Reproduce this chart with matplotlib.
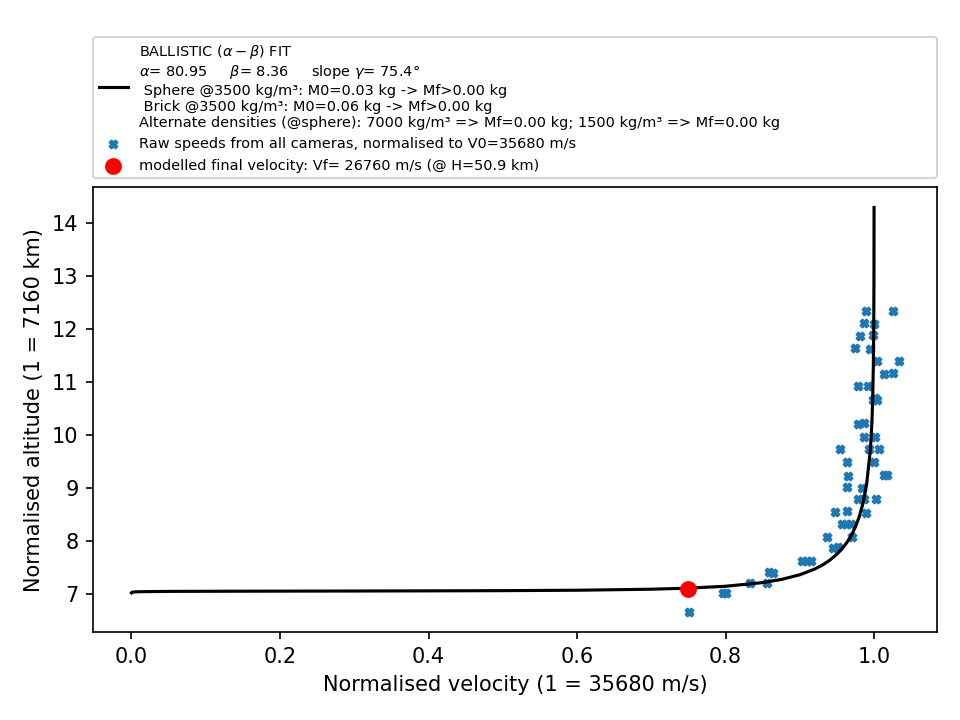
import matplotlib
matplotlib.use('Agg')
import matplotlib.pyplot as plt

# fitted alpha-beta curve (normalised velocity, normalised altitude)
fit_v = [0.0, 0.001, 0.01, 0.05, 0.1, 0.2, 0.3, 0.4, 0.5, 0.6, 0.7, 0.75, 0.8,
         0.85, 0.875, 0.9, 0.92, 0.93, 0.94, 0.95, 0.96, 0.965, 0.97, 0.975,
         0.98, 0.985, 0.99, 0.995, 0.997, 0.998, 0.999, 0.9995, 0.9998,
         0.9999, 0.99995]
fit_h = [7.02, 7.035, 7.042, 7.048, 7.050, 7.053, 7.055, 7.058, 7.062, 7.070,
         7.089, 7.109, 7.145, 7.214, 7.273, 7.362, 7.470, 7.542, 7.634, 7.751,
         7.907, 8.005, 8.124, 8.271, 8.458, 8.709, 9.076, 9.731, 10.227,
         10.625, 11.31, 12.0, 12.91, 13.61, 14.30]

# raw camera speeds (normalised)
raw_v = [0.989, 1.026, 0.987, 1.000, 0.981, 0.998, 0.974, 0.994, 1.004, 1.033,
         1.013, 1.026, 0.978, 0.992, 0.998, 1.001, 1.004, 0.978, 0.986, 0.986,
         1.001, 0.954, 0.993, 1.006, 0.964, 1.000, 0.965, 1.014, 1.017, 0.963,
         0.984, 0.978, 0.986, 1.003, 0.948, 0.963, 0.989, 0.957, 0.962, 0.969,
         0.936, 0.970, 0.944, 0.951, 0.903, 0.909, 0.915, 0.859, 0.864, 0.833,
         0.856, 0.797, 0.801, 0.751]
raw_h = [12.34, 12.34, 12.12, 12.09, 11.87, 11.89, 11.64, 11.63, 11.39, 11.40,
         11.16, 11.17, 10.92, 10.92, 10.67, 10.71, 10.67, 10.21, 10.22, 9.96,
         9.97, 9.74, 9.74, 9.74, 9.50, 9.49, 9.23, 9.25, 9.25, 9.02,
         9.00, 8.79, 8.80, 8.79, 8.55, 8.56, 8.52, 8.33, 8.33, 8.33,
         8.08, 8.08, 7.86, 7.88, 7.63, 7.62, 7.63, 7.42, 7.40, 7.21,
         7.20, 7.01, 7.01, 6.66]

final_v = [0.75]
final_h = [7.09]

fit_label = ("BALLISTIC ($\\alpha-\\beta$) FIT\n"
             "$\\alpha$= 80.95     $\\beta$= 8.36     slope $\\gamma$= 75.4\u00b0\n"
             " Sphere @3500 kg/m\u00b3: M0=0.03 kg -> Mf>0.00 kg\n"
             " Brick @3500 kg/m\u00b3: M0=0.06 kg -> Mf>0.00 kg\n"
             "Alternate densities (@sphere): 7000 kg/m\u00b3 => Mf=0.00 kg; "
             "1500 kg/m\u00b3 => Mf=0.00 kg")

fig, ax = plt.subplots(figsize=(6.4, 4.8), dpi=150)

ax.plot(fit_v, fit_h, color='black', linewidth=1.5, label=fit_label)
ax.scatter(raw_v, raw_h, marker='X', s=14, color='tab:blue',
           label='Raw speeds from all cameras, normalised to V0=35680 m/s')
ax.scatter(final_v, final_h, marker='o', s=50, color='red', zorder=3,
           label='modelled final velocity: Vf= 26760 m/s (@ H=50.9 km)')

ax.set_xlabel('Normalised velocity (1 = 35680 m/s)')
ax.set_ylabel('Normalised altitude (1 = 7160 km)')

ax.legend(bbox_to_anchor=(0., 1.02, 1., .102), loc='lower left', mode='expand',
          borderaxespad=0., fontsize='x-small')

plt.subplots_adjust(left=0.097, right=0.976, bottom=0.122, top=0.740)
plt.savefig('out.png', dpi=150)
